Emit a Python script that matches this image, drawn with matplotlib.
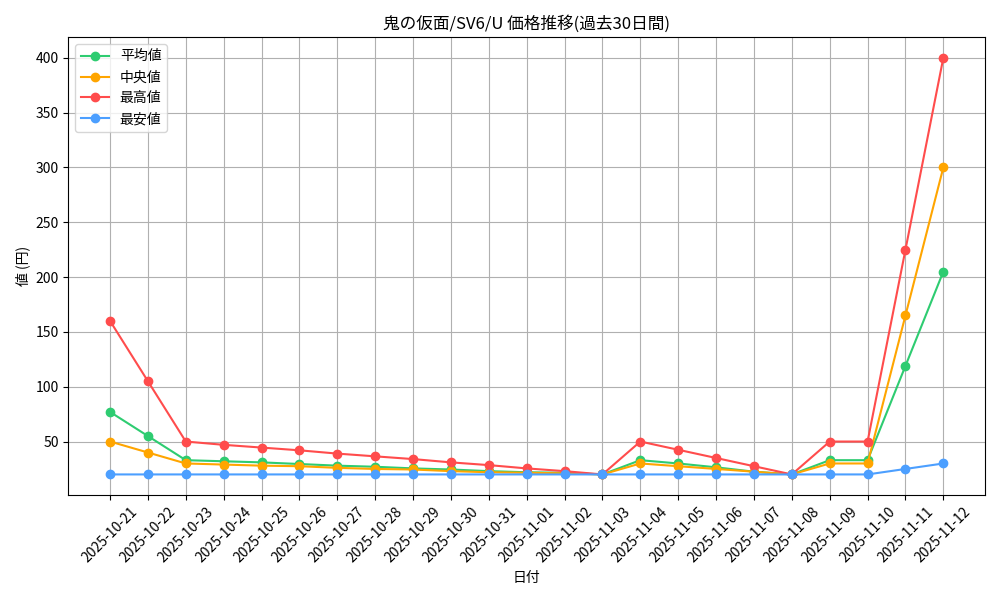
import matplotlib
matplotlib.use("Agg")
import matplotlib.pyplot as plt

plt.rcParams['font.family'] = ['Noto Sans CJK JP', 'DejaVu Sans']

dates = ["2025-10-21","2025-10-22","2025-10-23","2025-10-24","2025-10-25","2025-10-26","2025-10-27","2025-10-28",
         "2025-10-29","2025-10-30","2025-10-31","2025-11-01","2025-11-02","2025-11-03","2025-11-04","2025-11-05",
         "2025-11-06","2025-11-07","2025-11-08","2025-11-09","2025-11-10","2025-11-11","2025-11-12"]
avg = [77,55,33,32,31,29.5,28,27,25.5,24.5,23,22,21.5,20,33,30,26.5,22.5,20,33,33,119,205]
med = [50,40,30,29,28,27.5,26,25,24.5,23,22,21.5,21,20,30,27.5,25,22.5,20,30,30,165,300]
mx = [160,105,50,47,44.5,42,39,36.5,34,31,28.5,25.5,23,20,50,42.5,35,27.5,20,50,50,225,400]
mn = [20]*21 + [25,30]

fig, ax = plt.subplots(figsize=(10,6), dpi=100)
ax.plot(dates, avg, marker='o', color='#2ecc71', label='平均値')
ax.plot(dates, med, marker='o', color='#ffa500', label='中央値')
ax.plot(dates, mx, marker='o', color='#ff4c4c', label='最高値')
ax.plot(dates, mn, marker='o', color='#4c9fff', label='最安値')
ax.set_title('鬼の仮面/SV6/U 価格推移(過去30日間)')
ax.set_xlabel('日付')
ax.set_ylabel('値 (円)')
ax.grid(True)
ax.legend(loc='upper left')
plt.xticks(rotation=45)
plt.tight_layout()
plt.savefig('out.png')
